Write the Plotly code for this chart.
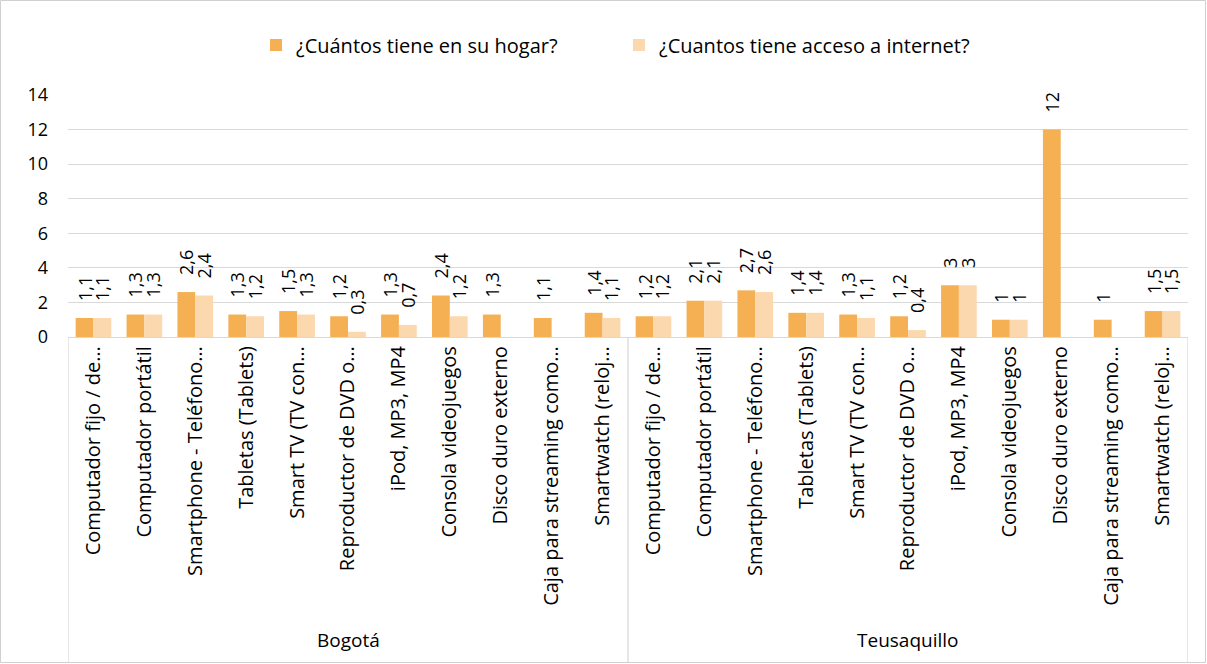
import plotly.graph_objects as go

groups = ["Bogotá", "Teusaquillo"]
categories = [
    "Computador fijo / de…",
    "Computador portátil",
    "Smartphone - Teléfono…",
    "Tabletas (Tablets)",
    "Smart TV (TV con…",
    "Reproductor de DVD o…",
    "iPod, MP3, MP4",
    "Consola videojuegos",
    "Disco duro externo",
    "Caja para streaming como…",
    "Smartwatch (reloj…",
]
series_names = ["¿Cuántos tiene en su hogar?", "¿Cuantos tiene acceso a internet?"]

bogota_hogar = [1.1, 1.3, 2.6, 1.3, 1.5, 1.2, 1.3, 2.4, 1.3, 1.1, 1.4]
bogota_internet = [1.1, 1.3, 2.4, 1.2, 1.3, 0.3, 0.7, 1.2, None, None, 1.1]
teusa_hogar = [1.2, 2.1, 2.7, 1.4, 1.3, 1.2, 3, 1, 12, 1, 1.5]
teusa_internet = [1.2, 2.1, 2.6, 1.4, 1.1, 0.4, 3, 1, None, None, 1.5]

y_ticks = [0, 2, 4, 6, 8, 10, 12, 14]

colors = ["#F5B054", "#FBD8AD"]
FONT = "Open Sans"
W, H = 1207, 664
ML, MR, MT, MB = 68, 19, 95, 327

n = len(categories)
xpos = list(range(2 * n))
ticktext = categories + categories
hogar = bogota_hogar + teusa_hogar
internet = bogota_internet + teusa_internet


def fmt(v):
    if v is None:
        return ""
    if float(v).is_integer():
        return str(int(v))
    return f"{v}".replace(".", ",")


PAD = "\u00a0\u00a0\u00a0"

fig = go.Figure()
for name, vals, col in zip(series_names, [hogar, internet], colors):
    fig.add_trace(go.Bar(
        x=xpos, y=vals, name=name, marker_color=col, marker_line_width=0,
        text=[(PAD + fmt(v)) if v is not None else "" for v in vals],
        textposition="outside", textangle=-90,
        textfont=dict(family=FONT, size=18, color="#000000"),
        constraintext="none", cliponaxis=False,
    ))

plot_h = H - MT - MB
plot_w = W - ML - MR

shapes = []
# group separators
for xv in [-0.5, n - 0.5, 2 * n - 0.5]:
    shapes.append(dict(type="line", xref="x", yref="paper", x0=xv, x1=xv,
                       y0=0, y1=-(MB - 1) / plot_h, line=dict(color="#D9D9D9", width=1.3)))
# outer border
shapes.append(dict(type="rect", xref="paper", yref="paper",
                   x0=-(ML - 0.5) / plot_w, x1=1 + (MR - 1.5) / plot_w,
                   y0=-(MB - 1.5) / plot_h, y1=1 + (MT - 0.5) / plot_h,
                   line=dict(color="#D0D0D0", width=1)))

annotations = []
for i, g in enumerate(groups):
    annotations.append(dict(text=g, xref="x", yref="paper", x=i * n + (n - 1) / 2,
                            y=-(640 - (H - MB)) / plot_h, yanchor="middle", showarrow=False,
                            font=dict(family=FONT, size=19, color="#000000")))

fig.update_layout(
    width=W, height=H,
    margin=dict(l=ML, r=MR, t=MT, b=MB),
    paper_bgcolor="white", plot_bgcolor="white",
    barmode="group", bargap=0.3, bargroupgap=0,
    font=dict(family=FONT, size=19, color="#000000"),
    legend=dict(orientation="h", x=0.5 - 9 / plot_w, xanchor="center", y=1 + (MT - 45) / plot_h,
                yanchor="middle", font=dict(family=FONT, size=20), itemwidth=30,
                entrywidth=318, entrywidthmode="pixels",
                traceorder="normal"),
    shapes=shapes, annotations=annotations,
    xaxis=dict(tickvals=xpos, ticktext=ticktext, tickangle=-90, range=[-0.5, 2 * n - 0.5],
               showgrid=False, showline=True, linecolor="#D9D9D9", linewidth=1.3,
               ticks="", tickfont=dict(family=FONT, size=20), automargin=False),
    yaxis=dict(range=[0, 14], tickvals=y_ticks, showgrid=True, gridcolor="#D9D9D9",
               gridwidth=1.3, zeroline=False, showline=False, ticks="",
               ticklabelstandoff=19,
               tickfont=dict(family=FONT, size=18), automargin=False),
)

fig.write_html("out.html", config={"displayModeBar": False},
               post_script="document.body.style.margin='0';")
